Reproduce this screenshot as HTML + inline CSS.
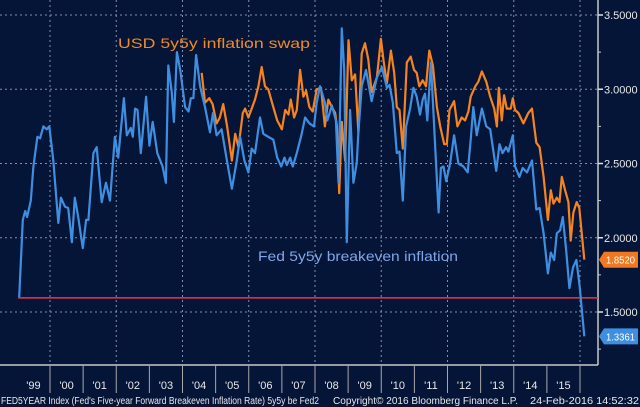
<!DOCTYPE html>
<html><head><meta charset="utf-8"><style>
html,body{margin:0;padding:0;background:#051538;}
svg{display:block;font-family:"Liberation Sans","DejaVu Sans",sans-serif;}
</style></head><body>
<svg id="chart" width="640" height="407" viewBox="0 0 640 407" xmlns="http://www.w3.org/2000/svg">
<rect x="0" y="0" width="640" height="407" fill="#051538"/>
<g id="grid"></g>
<g id="axes"></g>
<g id="series"></g>
<text x="118" y="48" fill="#f08a24" font-size="14" textLength="192" lengthAdjust="spacingAndGlyphs">USD 5y5y inflation swap</text>
<text x="258" y="261" fill="#7ea6e6" font-size="14" textLength="200" lengthAdjust="spacingAndGlyphs">Fed 5y5y breakeven inflation</text>
<text x="1" y="404" fill="#e8e8e8" font-size="10" textLength="318" lengthAdjust="spacingAndGlyphs">FED5YEAR Index (Fed's Five-year Forward Breakeven Inflation Rate) 5y5y be Fed2</text>
<text x="333" y="404" fill="#e8e8e8" font-size="10" textLength="185" lengthAdjust="spacingAndGlyphs">Copyright© 2016 Bloomberg Finance L.P.</text>
<text x="530" y="404" fill="#e8e8e8" font-size="10" textLength="109" lengthAdjust="spacingAndGlyphs">24-Feb-2016 14:52:32</text>
</svg>
<script>
const yTicks = [1.5, 2.0, 2.5, 3.0, 3.5];
const yMinorTicks = [1.25, 1.75, 2.25, 2.75, 3.25];
const yearLabels = ["'99","'00","'01","'02","'03","'04","'05","'06","'07","'08","'09","'10","'11","'12","'13","'14","'15"];
const yearStarts = [1999,2000,2001,2002,2003,2004,2005,2006,2007,2008,2009,2010,2011,2012,2013,2014,2015];
const refLevel = 1.595;

const fedDates = [1999.07,1999.18,1999.25,1999.31,1999.42,1999.50,1999.62,1999.70,1999.80,1999.90,1999.98,
2000.10,2000.25,2000.33,2000.45,2000.55,2000.66,2000.75,2000.85,2000.99,
2001.09,2001.16,2001.31,2001.41,2001.56,2001.69,2001.81,2001.96,
2002.06,2002.23,2002.32,2002.44,2002.50,2002.57,2002.64,2002.74,2002.90,
2003.00,2003.10,2003.24,2003.40,2003.50,2003.57,2003.67,2003.74,2003.83,2003.93,
2004.08,2004.18,2004.25,2004.33,2004.41,2004.53,2004.68,2004.83,2004.92,
2005.03,2005.18,2005.34,2005.49,2005.64,2005.74,2005.87,2005.99,
2006.09,2006.19,2006.34,2006.44,2006.59,2006.74,2006.86,2006.98,
2007.08,2007.15,2007.25,2007.33,2007.45,2007.60,2007.70,2007.83,2007.97,
2008.05,2008.15,2008.30,2008.37,2008.51,2008.63,2008.71,2008.81,2008.88,2008.96,
2009.06,2009.16,2009.26,2009.31,2009.41,2009.54,2009.71,2009.87,
2010.02,2010.17,2010.25,2010.35,2010.47,2010.55,2010.65,2010.75,2010.87,2010.97,
2011.07,2011.17,2011.25,2011.32,2011.39,2011.50,2011.63,2011.73,2011.80,2011.88,2011.96,
2012.08,2012.20,2012.33,2012.48,2012.61,2012.70,2012.78,2012.88,
2013.04,2013.17,2013.29,2013.47,2013.57,2013.66,2013.77,2013.84,2013.97,
2014.04,2014.17,2014.27,2014.40,2014.55,2014.68,2014.78,2014.90,
2015.03,2015.12,2015.22,2015.30,2015.40,2015.48,2015.58,2015.68,2015.79,2015.89,2015.99,
2016.13];
const fedValues = [1.60,2.12,2.18,2.14,2.25,2.48,2.68,2.67,2.75,2.73,2.75,
2.52,2.10,2.27,2.21,2.20,1.97,2.27,2.14,1.93,
2.12,2.12,2.57,2.61,2.24,2.37,2.25,2.68,
2.54,2.94,2.69,2.74,2.68,2.87,2.86,2.57,2.95,
2.62,2.78,2.57,2.48,2.37,3.16,2.99,2.78,3.25,3.13,
2.88,2.85,2.94,2.94,3.23,3.02,2.88,2.71,2.84,
2.69,2.73,2.52,2.33,2.52,2.68,2.52,2.44,
2.60,2.57,2.81,2.70,2.68,2.66,2.54,2.48,
2.54,2.49,2.54,2.48,2.57,2.70,2.81,2.77,2.75,
2.91,3.02,2.91,2.79,2.89,2.79,2.37,3.41,3.13,1.97,
2.86,2.37,2.50,2.71,3.02,3.13,2.92,3.08,
3.15,3.01,3.03,2.91,2.57,2.58,2.25,2.75,2.87,3.01,
2.95,2.83,2.93,2.97,2.79,3.18,2.61,2.17,2.47,2.48,2.38,
2.50,2.69,2.50,2.48,2.44,2.66,2.88,2.69,
2.87,2.75,2.73,2.45,2.63,2.57,2.61,2.58,2.69,
2.48,2.41,2.47,2.44,2.52,2.19,2.20,2.03,
1.76,1.90,1.85,2.03,2.05,2.14,1.92,1.66,1.80,1.85,1.67,
1.3361];

const swapDates = [2004.58,2004.68,2004.81,2004.91,
2005.03,2005.13,2005.23,2005.34,2005.49,2005.59,2005.69,2005.82,2005.89,2005.99,
2006.09,2006.19,2006.29,2006.39,2006.49,2006.59,2006.74,2006.86,
2007.00,2007.10,2007.20,2007.27,2007.37,2007.45,2007.55,2007.65,2007.73,2007.83,2007.93,
2008.05,2008.18,2008.30,2008.40,2008.51,2008.61,2008.66,2008.73,2008.81,2008.91,
2009.01,2009.11,2009.21,2009.31,2009.41,2009.51,2009.61,2009.71,2009.87,2009.99,
2010.07,2010.17,2010.29,2010.39,2010.47,2010.55,2010.65,2010.77,2010.89,2010.99,
2011.07,2011.15,2011.25,2011.35,2011.45,2011.56,2011.68,2011.78,2011.90,2011.98,
2012.06,2012.20,2012.30,2012.43,2012.53,2012.63,2012.70,2012.84,2012.93,
2013.04,2013.17,2013.29,2013.41,2013.49,2013.55,2013.64,2013.71,2013.79,2013.91,2013.97,
2014.04,2014.14,2014.29,2014.44,2014.55,2014.68,2014.78,2014.90,
2015.03,2015.12,2015.20,2015.30,2015.38,2015.45,2015.55,2015.65,2015.72,2015.80,2015.90,2015.98,
2016.13];
const swapValues = [3.11,2.91,2.94,2.90,
2.77,2.81,2.90,2.76,2.52,2.70,2.61,2.84,2.87,2.81,
2.87,2.93,3.02,3.15,3.02,3.00,2.88,2.79,
2.73,2.86,2.83,2.93,2.81,2.86,3.13,2.95,2.99,2.88,2.85,
3.00,3.01,2.75,2.93,2.88,2.84,2.75,2.30,2.78,2.52,
3.33,3.06,3.10,2.71,3.24,3.31,3.20,2.98,3.08,3.34,
3.19,3.04,3.26,3.11,2.88,2.86,2.60,3.18,3.22,3.13,
3.11,3.02,3.06,3.02,3.26,3.16,2.88,2.75,2.63,2.63,
2.86,2.92,2.75,2.81,2.79,2.85,2.95,3.02,3.05,
3.12,3.05,2.95,2.87,2.75,3.01,2.79,2.96,2.87,2.87,2.94,
2.86,2.84,2.77,2.84,2.87,2.64,2.61,2.41,
2.12,2.32,2.23,2.27,2.24,2.41,2.32,2.24,1.98,2.17,2.24,2.20,
1.852];

const NS = "http://www.w3.org/2000/svg";
const PLOT_RIGHT = 598, PLOT_BOTTOM = 365;
function xScale(t){ return 50 + (t - 2000) * 33.125; }
function yScale(v){ return 312 - (v - 1.5) * 148.5; }
function mk(tag, attrs, parent){
  const el = document.createElementNS(NS, tag);
  for (const k in attrs) el.setAttribute(k, attrs[k]);
  parent.appendChild(el);
  return el;
}
const grid = document.getElementById('grid');
const axes = document.getElementById('axes');
const series = document.getElementById('series');

yTicks.forEach(v => {
  const l = mk('line', {x1:0, x2:PLOT_RIGHT, y1:yScale(v), y2:yScale(v), stroke:'#8090b0', 'stroke-width':1, 'stroke-dasharray':'2,3'}, grid);
  
  
});
for (let y = 2000; y <= 2016; y += 2) {
  const l = mk('line', {x1:xScale(y), x2:xScale(y), y1:0, y2:PLOT_BOTTOM, stroke:'#8090b0', 'stroke-width':1, 'stroke-dasharray':'2,3'}, grid);
  
  
}
const ax1 = mk('line', {x1:PLOT_RIGHT, x2:PLOT_RIGHT, y1:0, y2:PLOT_BOTTOM, stroke:'#c8c8c8', 'stroke-width':1.5}, axes);


const ax2 = mk('line', {x1:0, x2:PLOT_RIGHT, y1:PLOT_BOTTOM, y2:PLOT_BOTTOM, stroke:'#c8c8c8', 'stroke-width':1.5}, axes);


yTicks.forEach(v => {
  const t = mk('line', {x1:PLOT_RIGHT, x2:PLOT_RIGHT+5, y1:yScale(v), y2:yScale(v), stroke:'#e0e0e0', 'stroke-width':1.5}, axes);
  
  
  const tx = mk('text', {x:PLOT_RIGHT+6, y:yScale(v)+4, fill:'#e8e8e8', 'font-size':11}, axes);
  tx.textContent = v.toFixed(4);
  
  
});
yMinorTicks.forEach(v => {
  const t = mk('line', {x1:PLOT_RIGHT, x2:PLOT_RIGHT+3, y1:yScale(v), y2:yScale(v), stroke:'#c8c8c8', 'stroke-width':1}, axes);
  
  
});
yearStarts.forEach((y, i) => {
  const s = mk('line', {x1:xScale(y+1), x2:xScale(y+1), y1:PLOT_BOTTOM, y2:393, stroke:'#a8a8a8', 'stroke-width':1}, axes);
  
  
  const tx = mk('text', {x:xScale(y+0.5), y:389, fill:'#e8e8e8', 'font-size':11, 'text-anchor':'middle'}, axes);
  tx.textContent = yearLabels[i];
  
  
});
const ref = mk('line', {x1:18, x2:PLOT_RIGHT, y1:yScale(refLevel), y2:yScale(refLevel), stroke:'#e8354f', 'stroke-width':1.5}, series);



function linePath(dates, vals){
  return dates.map((d, i) => (i ? 'L' : 'M') + xScale(d).toFixed(1) + ',' + yScale(vals[i]).toFixed(1)).join(' ');
}
const sw = mk('path', {d:linePath(swapDates, swapValues), fill:'none', stroke:'#f7831f', 'stroke-width':2.2, 'stroke-linejoin':'round'}, series);


const fd = mk('path', {d:linePath(fedDates, fedValues), fill:'none', stroke:'#3f8fe0', 'stroke-width':2.2, 'stroke-linejoin':'round'}, series);



function tag(v, fill, name){
  const y = yScale(v);
  const p = mk('path', {d:`M${PLOT_RIGHT+1},${y} L${PLOT_RIGHT+6},${y-8} L638,${y-8} L638,${y+8} L${PLOT_RIGHT+6},${y+8} Z`, fill:fill}, axes);
  
  
  const tx = mk('text', {x:PLOT_RIGHT+8, y:y+4, fill:'#ffffff', 'font-size':10.5, textLength:29, lengthAdjust:'spacingAndGlyphs'}, axes);
  tx.textContent = v.toFixed(4);
  
  
}
tag(swapValues[swapValues.length-1], '#f07820', 'swap-last-value');
tag(fedValues[fedValues.length-1], '#3f8fe0', 'breakeven-last-value');
</script>
</body></html>
